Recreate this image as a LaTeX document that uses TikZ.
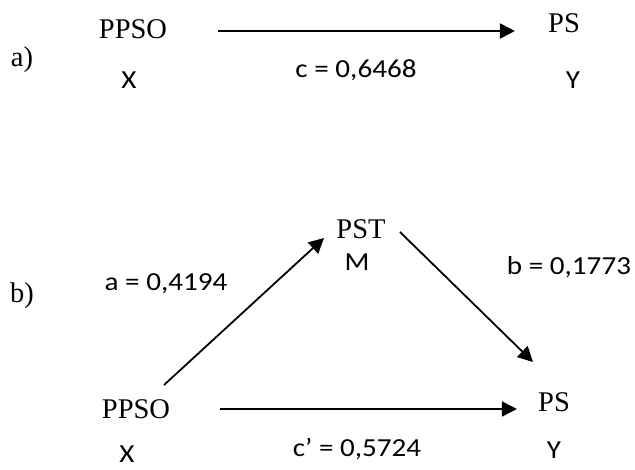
\documentclass[tikz,border=0pt]{standalone}
\usepackage{fontspec}
\setmainfont{Liberation Serif}
\newfontfamily\calfont{Carlito}[FakeStretch=1.12]
\usetikzlibrary{arrows.meta}
\tikzset{
  tnr/.style={inner sep=0pt, font=\fontsize{28.5}{30}\selectfont},
  cal/.style={inner sep=0pt, font=\calfont\fontsize{26}{28}\selectfont},
  arr/.style={line width=1.8pt, -{Triangle[length=15pt,width=15pt]}}
}
\begin{document}
\begin{tikzpicture}[x=1pt,y=-1pt]
\useasboundingbox (0,0) rectangle (635,470);
% a)
\node[tnr] (la) at (22,60) {a)};
\node[tnr] (ppsoA) at (133,29) {PPSO};
\node[cal] (xA) at (129,80) {X};
\node[tnr] (psA) at (564,23) {PS};
\node[cal] (yA) at (573,80) {Y};
\node[cal] (cA) at (356,70) {c = 0,6468};
\draw[arr] ([xshift=51pt]ppsoA.east |- 0,31) -- ([xshift=-33pt]psA.west |- 0,31);
% b)
\node[tnr] (lb) at (22,296) {b)};
\node[tnr] (pst) at (361,229) {PST};
\node[cal] (m) at (357,262) {M};
\node[cal] (aB) at (166,284) {a = 0,4194};
\node[cal] (bB) at (569,267) {b = 0,1773};
\node[tnr] (ppsoB) at (136,409) {PPSO};
\node[cal] (xB) at (127,454) {X};
\node[tnr] (psB) at (554,402) {PS};
\node[cal] (yB) at (554,450) {Y};
\node[cal] (cB) at (357,449) {c’ = 0,5724};
\draw[arr] ([shift={(28,-24)}]ppsoB.center) -- ([shift={(-37,9)}]pst.center);
\draw[arr] ([shift={(39,3)}]pst.center) -- ([shift={(-21,-40)}]psB.center);
\draw[arr] ([xshift=50pt]ppsoB.east) -- ([xshift=-21pt]psB.west |- ppsoB.east);
\end{tikzpicture}
\end{document}
